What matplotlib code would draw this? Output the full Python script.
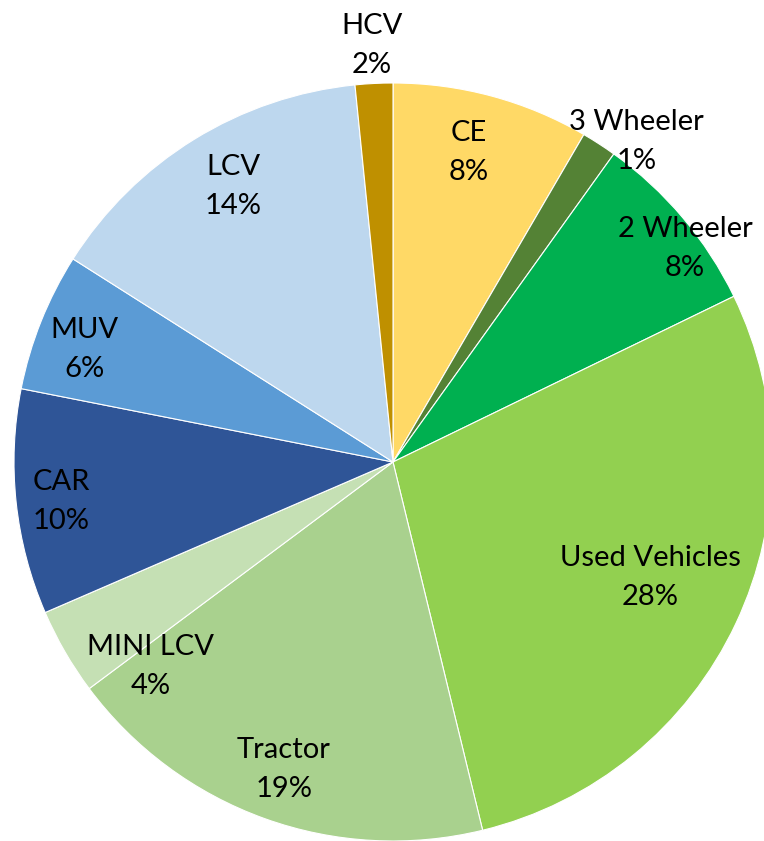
import matplotlib
matplotlib.use("Agg")
import matplotlib.pyplot as plt
import matplotlib.transforms as mtransforms
import numpy as np

categories = ["CE", "3 Wheeler", "2 Wheeler", "Used Vehicles", "Tractor",
              "MINI LCV", "CAR", "MUV", "LCV", "HCV"]
values = [8.4, 1.5, 7.9, 28.4, 18.6, 3.7, 9.6, 5.9, 14.4, 1.6]
pct_labels = ["8%", "1%", "8%", "28%", "19%", "4%", "10%", "6%", "14%", "2%"]
colors = ["#FFD966", "#548235", "#00B050", "#92D050", "#A9D18E",
          "#C5E0B4", "#2F5597", "#5B9BD5", "#BDD7EE", "#BF9000"]

# layout for labels: radial distance (fraction of radius) and angular shift (deg, clockwise)
label_r = [0.85, 1.07, 0.96, 0.74, 0.85, 0.83, 0.88, 0.87, 0.85, 1.11]
label_shift = [-1.5, 4.0, 3.5, -1.7, 0.0, -9.5, 0.0, -1.0, 2.0, 0.0]

W, H = 764, 841
fig = plt.figure(figsize=(W / 100, H / 100), dpi=100)
cx, cy, r = 393, 462, 379
ax = fig.add_axes([(cx - r) / W, (H - cy - r) / H, 2 * r / W, 2 * r / H])

wedges, _ = ax.pie(values, colors=colors, startangle=90, counterclock=False,
                   radius=1.0, wedgeprops=dict(edgecolor="white", linewidth=0.8))
ax.set_xlim(-1, 1)
ax.set_ylim(-1, 1)
ax.set_aspect("equal")
ax.axis("off")
for w in wedges:
    w.set_clip_on(False)

trans = mtransforms.offset_copy(ax.transData, fig=fig, x=0, y=-4, units="dots")

total = sum(values)
cum = 0.0
for i, (cat, v, p) in enumerate(zip(categories, values, pct_labels)):
    mid = (cum + v / 2) / total * 360 + label_shift[i]
    cum += v
    theta = np.deg2rad(90 - mid)
    x = label_r[i] * np.cos(theta)
    y = label_r[i] * np.sin(theta)
    ax.text(x, y, f"{cat}\n{p}", ha="center", va="center", fontsize=21,
            family=["Lato", "DejaVu Sans"], color="black", linespacing=1.62,
            clip_on=False, transform=trans)

fig.savefig("out.png", dpi=100)
